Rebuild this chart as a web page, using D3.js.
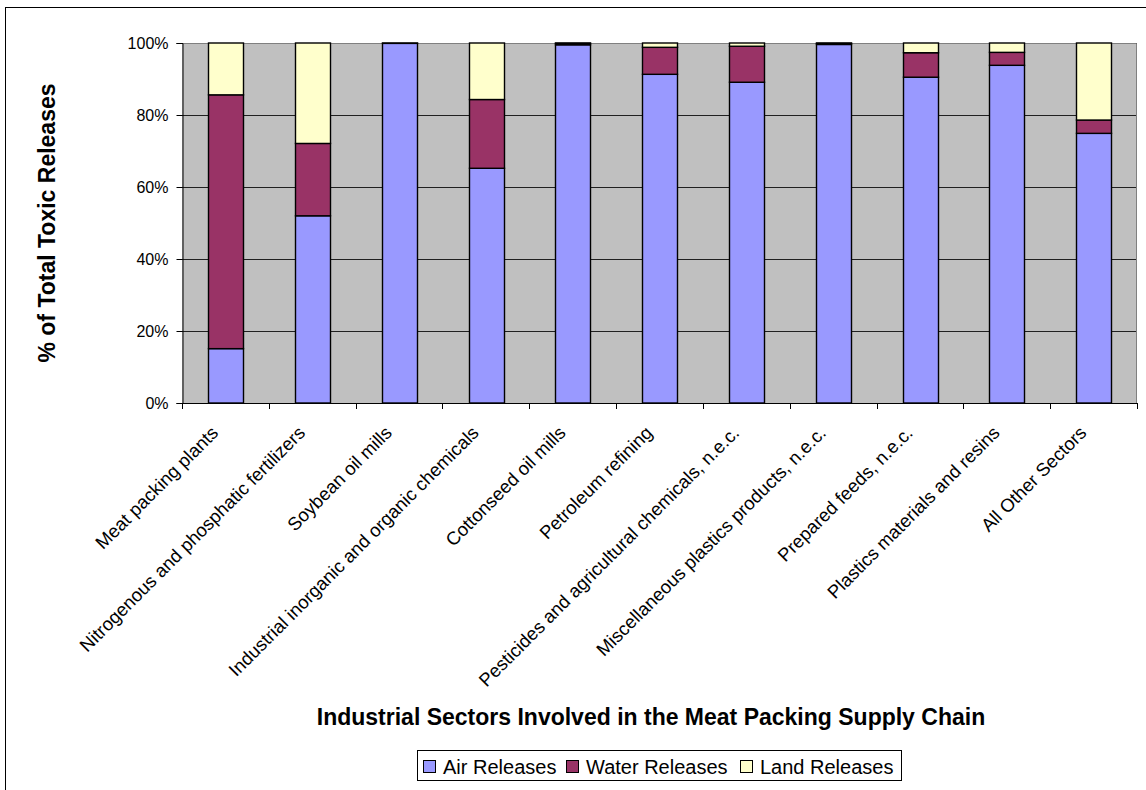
<!DOCTYPE html>
<html>
<head>
<meta charset="utf-8">
<script src="https://cdn.jsdelivr.net/npm/d3@7"></script>
<style>
  html, body { margin: 0; padding: 0; background: #ffffff; }
  svg { display: block; font-family: "Liberation Sans", Arial, sans-serif; }
</style>
</head>
<body>
<svg id="chart" width="1146" height="790"></svg>
<script>
// Industrial sectors in the meat packing supply chain
const categories = [
  "Meat packing plants",
  "Nitrogenous and phosphatic fertilizers",
  "Soybean oil mills",
  "Industrial inorganic and organic chemicals",
  "Cottonseed oil mills",
  "Petroleum refining",
  "Pesticides and agricultural chemicals, n.e.c.",
  "Miscellaneous plastics products, n.e.c.",
  "Prepared feeds, n.e.c.",
  "Plastics materials and resins",
  "All Other Sectors"
];

// Share of total toxic releases by medium (percent)
const airReleases   = [15.1, 52.0, 99.9, 65.2, 99.5, 91.3, 89.1, 99.6, 90.5, 93.8, 74.9];
const waterReleases = [70.5, 20.1,  0.1, 19.1,  0.4,  7.5, 10.0,  0.3,  6.8,  3.6,  3.7];
const landReleases  = [14.4, 27.9,  0.0, 15.7,  0.1,  1.2,  0.9,  0.1,  2.7,  2.6, 21.4];

const seriesNames = ["Air Releases", "Water Releases", "Land Releases"];
const seriesColors = ["#9999FF", "#993366", "#FFFFCC"];
const yTicks = [0, 20, 40, 60, 80, 100];

const yAxisTitle = "% of Total Toxic Releases";
const xAxisTitle = "Industrial Sectors Involved in the Meat Packing Supply Chain";

// Build rows for d3.stack from the series arrays
const rows = categories.map((c, i) => ({
  category: c,
  "Air Releases": airReleases[i],
  "Water Releases": waterReleases[i],
  "Land Releases": landReleases[i]
}));

const svg = d3.select("#chart");
const W = 1146, H = 790;
const plot = { left: 182, top: 43, right: 1137, bottom: 403 };

// Outer chart frame
svg.append("rect")
  .attr("x", 5.5).attr("y", 7.5)
  .attr("width", W + 10).attr("height", H + 10)
  .attr("fill", "#ffffff").attr("stroke", "#000000").attr("stroke-width", 1);

const x = d3.scaleBand()
  .domain(categories)
  .range([plot.left, plot.right])
  .paddingInner(0.6)
  .paddingOuter(0.3);

const xCell = d3.scaleBand()
  .domain(categories)
  .range([plot.left, plot.right])
  .padding(0);

const y = d3.scaleLinear().domain([0, 100]).range([plot.bottom, plot.top]);

// Plot area background
svg.append("rect")
  .attr("x", plot.left).attr("y", plot.top)
  .attr("width", plot.right - plot.left).attr("height", plot.bottom - plot.top)
  .attr("fill", "#C0C0C0");

// Horizontal gridlines
svg.append("g")
  .selectAll("line")
  .data(yTicks.filter(t => t > 0))
  .join("line")
  .attr("x1", plot.left).attr("x2", plot.right)
  .attr("y1", d => Math.round(y(d)) + 0.5).attr("y2", d => Math.round(y(d)) + 0.5)
  .attr("stroke", "#202020").attr("stroke-width", 1);

// Plot area border (top/right)
svg.append("path")
  .attr("d", `M${plot.left},${plot.top + 0.5}H${plot.right - 0.5}V${plot.bottom}`)
  .attr("fill", "none").attr("stroke", "#808080").attr("stroke-width", 1);

// Stacked bars
const stack = d3.stack().keys(seriesNames);
const layers = stack(rows);

svg.append("g")
  .selectAll("g")
  .data(layers)
  .join("g")
  .attr("fill", (d, i) => seriesColors[i])
  .selectAll("rect")
  .data(d => d.filter(s => s[1] - s[0] > 0))
  .join("rect")
  .attr("x", d => Math.round(x(d.data.category)) + 0.5)
  .attr("y", d => y(d[1]))
  .attr("width", Math.round(x.bandwidth()))
  .attr("height", d => y(d[0]) - y(d[1]))
  .attr("stroke", "#000000")
  .attr("stroke-width", 1.4);

// Y axis
const yAxis = d3.axisLeft(y)
  .tickValues(yTicks)
  .tickFormat(d => d + "%")
  .tickSize(6)
  .tickPadding(8);

const gy = svg.append("g")
  .attr("transform", `translate(${plot.left + 0.5},0)`)
  .call(yAxis);
gy.select(".domain").attr("stroke", "#000");
gy.selectAll(".tick line").attr("stroke", "#000");
gy.selectAll(".tick text")
  .attr("font-size", 16).attr("fill", "#000")
  .attr("font-family", "'Liberation Sans', Arial, sans-serif");

// X axis baseline and tick marks at category boundaries
const boundaries = categories.map(c => xCell(c)).concat([plot.right]);
svg.append("line")
  .attr("x1", plot.left).attr("x2", plot.right)
  .attr("y1", plot.bottom + 0.5).attr("y2", plot.bottom + 0.5)
  .attr("stroke", "#000");
svg.append("g")
  .selectAll("line")
  .data(boundaries)
  .join("line")
  .attr("x1", d => Math.round(d) + 0.5).attr("x2", d => Math.round(d) + 0.5)
  .attr("y1", plot.bottom).attr("y2", plot.bottom + 6)
  .attr("stroke", "#000");

// Rotated category labels
svg.append("g")
  .selectAll("text")
  .data(categories)
  .join("text")
  .attr("transform", d => `translate(${x(d) + x.bandwidth() / 2 - 6},${plot.bottom + 31}) rotate(-45)`)
  .attr("text-anchor", "end")
  .attr("font-size", 18.5)
  .attr("fill", "#000")
  .text(d => d);

// Axis titles
svg.append("text")
  .attr("transform", `translate(55,${(plot.top + plot.bottom) / 2}) rotate(-90)`)
  .attr("text-anchor", "middle")
  .attr("font-size", 23).attr("font-weight", "bold").attr("fill", "#000")
  .text(yAxisTitle);

svg.append("text")
  .attr("x", 651).attr("y", 725)
  .attr("text-anchor", "middle")
  .attr("font-size", 23).attr("font-weight", "bold").attr("fill", "#000")
  .text(xAxisTitle);

// Legend
const legend = svg.append("g");
legend.append("rect")
  .attr("x", 417.5).attr("y", 750.5).attr("width", 484).attr("height", 30)
  .attr("fill", "#fff").attr("stroke", "#000");
const legendX = [423, 566, 740];
const items = legend.selectAll("g.item")
  .data(seriesNames)
  .join("g")
  .attr("class", "item")
  .attr("transform", (d, i) => `translate(${legendX[i]},760)`);
items.append("rect")
  .attr("x", 0.5).attr("y", 0.5).attr("width", 12).attr("height", 12)
  .attr("fill", (d, i) => seriesColors[i]).attr("stroke", "#000");
items.append("text")
  .attr("x", 20).attr("y", 13.5)
  .attr("font-size", 20).attr("fill", "#000")
  .text(d => d);
</script>
</body>
</html>
